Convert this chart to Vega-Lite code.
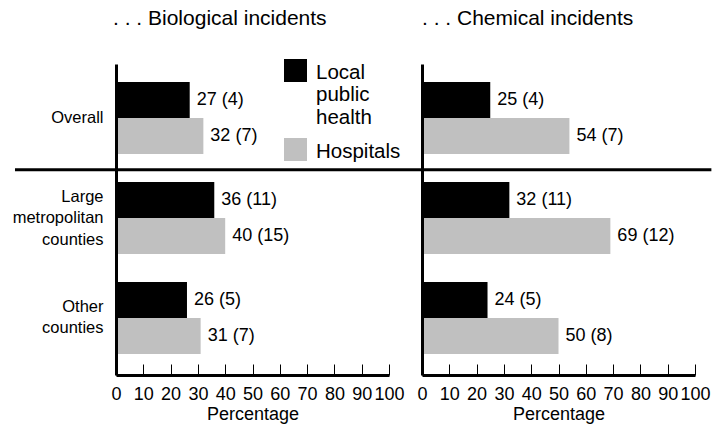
{
  "$schema": "https://vega.github.io/schema/vega-lite/v6.json",
  "padding": {"left": 12, "top": 8, "right": 10, "bottom": 5},
  "bounds": "flush",
  "spacing": 33,
  "config": {
    "font": "Liberation Sans",
    "view": {"stroke": null},
    "axis": {"labelColor": "#000000", "titleColor": "#000000", "domainColor": "#000000", "tickColor": "#000000"},
    "title": {"color": "#000000", "fontWeight": "normal", "fontSize": 21}
  },
  "data": {
    "values": [
      {"panel": "Biological", "group": "Overall", "org": "Local public health", "value": 27, "label": "27 (4)"},
      {"panel": "Biological", "group": "Overall", "org": "Hospitals", "value": 32, "label": "32 (7)"},
      {"panel": "Biological", "group": "Large metropolitan counties", "org": "Local public health", "value": 36, "label": "36 (11)"},
      {"panel": "Biological", "group": "Large metropolitan counties", "org": "Hospitals", "value": 40, "label": "40 (15)"},
      {"panel": "Biological", "group": "Other counties", "org": "Local public health", "value": 26, "label": "26 (5)"},
      {"panel": "Biological", "group": "Other counties", "org": "Hospitals", "value": 31, "label": "31 (7)"},
      {"panel": "Chemical", "group": "Overall", "org": "Local public health", "value": 25, "label": "25 (4)"},
      {"panel": "Chemical", "group": "Overall", "org": "Hospitals", "value": 54, "label": "54 (7)"},
      {"panel": "Chemical", "group": "Large metropolitan counties", "org": "Local public health", "value": 32, "label": "32 (11)"},
      {"panel": "Chemical", "group": "Large metropolitan counties", "org": "Hospitals", "value": 69, "label": "69 (12)"},
      {"panel": "Chemical", "group": "Other counties", "org": "Local public health", "value": 24, "label": "24 (5)"},
      {"panel": "Chemical", "group": "Other counties", "org": "Hospitals", "value": 50, "label": "50 (8)"}
    ]
  },
  "hconcat": [
    {
      "title": {"text": ". . . Biological incidents", "anchor": "start", "frame": "group", "offset": 35, "dx": -3},
      "width": 273,
      "height": 311,
      "encoding": {
        "y": {"field": "group", "type": "nominal",
          "scale": {"domain": ["Overall", "Large metropolitan counties", "Other counties"], "paddingInner": 0.28, "paddingOuter": 0.195, "align": 0.46},
          "axis": {"title": null, "ticks": false, "domainWidth": 3, "zindex": 1, "labelFontSize": 16.5, "labelPadding": 13, "labelLineHeight": 21.5, "labelLimit": 200,
            "labelExpr": "datum.label == 'Large metropolitan counties' ? ['Large', 'metropolitan', 'counties'] : datum.label == 'Other counties' ? ['Other', 'counties'] : datum.label",
            "labelOffset": {"condition": [{"test": "datum.value == 'Large metropolitan counties'", "value": -21}, {"test": "datum.value == 'Other counties'", "value": -11}], "value": 0}}},
        "x": {"field": "value", "type": "quantitative", "scale": {"domain": [0, 100], "nice": false},
          "axis": {"title": "Percentage", "titleFontSize": 18, "titleFontWeight": "normal", "titlePadding": 2, "values": [0, 10, 20, 30, 40, 50, 60, 70, 80, 90, 100], "domainWidth": 3, "zindex": 1, "grid": false, "ticks": true, "tickSize": -11, "tickWidth": 1, "tickColor": "#000000", "labelFontSize": 18, "labelPadding": 21, "labelFlush": false, "labelOverlap": false}}
      },
      "layer": [
        {
          "transform": [{"filter": "datum.panel == 'Biological'"}],
          "mark": {"type": "bar"},
          "encoding": {
            "yOffset": {"field": "org", "type": "nominal", "scale": {"domain": ["Local public health", "Hospitals"], "paddingInner": 0, "paddingOuter": 0}},
            "color": {"field": "org", "type": "nominal",
              "scale": {"domain": ["Local public health", "Hospitals"], "range": ["#000000", "#c0c0c0"]},
              "legend": {"orient": "none", "legendX": 168, "legendY": -5, "title": null, "symbolType": "square", "symbolSize": 529, "symbolStrokeWidth": 0, "labelFontSize": 20.5, "labelOffset": 9, "labelColor": "#000000", "labelLineHeight": 21.5, "rowPadding": 10, "labelLimit": 300,
                "labelExpr": "datum.label == 'Local public health' ? ['Local', 'public', 'health'] : datum.label",
                "encode": {"labels": {"update": {"dy": {"value": 2}}}}}}
          }
        },
        {
          "transform": [{"filter": "datum.panel == 'Biological'"}],
          "mark": {"type": "text", "align": "left", "baseline": "middle", "dx": 7, "fontSize": 18, "color": "#000000"},
          "encoding": {
            "yOffset": {"field": "org", "type": "nominal"},
            "text": {"field": "label", "type": "nominal"}
          }
        },
        {
          "data": {"values": [{"group": "Overall", "value": -37, "end": 112}]},
          "mark": {"type": "rule", "strokeWidth": 3, "color": "#000000"},
          "encoding": {
            "y": {"field": "group", "type": "nominal", "bandPosition": 1.22},
            "x2": {"field": "end"}
          }
        }
      ]
    },
    {
      "title": {"text": ". . . Chemical incidents", "anchor": "start", "frame": "group", "offset": 35, "dx": 0},
      "width": 273,
      "height": 311,
      "encoding": {
        "y": {"field": "group", "type": "nominal",
          "scale": {"domain": ["Overall", "Large metropolitan counties", "Other counties"], "paddingInner": 0.28, "paddingOuter": 0.195, "align": 0.46},
          "axis": {"title": null, "ticks": false, "labels": false, "domainWidth": 3, "zindex": 1}},
        "x": {"field": "value", "type": "quantitative", "scale": {"domain": [0, 100], "nice": false},
          "axis": {"title": "Percentage", "titleFontSize": 18, "titleFontWeight": "normal", "titlePadding": 2, "values": [0, 10, 20, 30, 40, 50, 60, 70, 80, 90, 100], "domainWidth": 3, "zindex": 1, "grid": false, "ticks": true, "tickSize": -11, "tickWidth": 1, "tickColor": "#000000", "labelFontSize": 18, "labelPadding": 21, "labelFlush": false, "labelOverlap": false}}
      },
      "layer": [
        {
          "transform": [{"filter": "datum.panel == 'Chemical'"}],
          "mark": {"type": "bar"},
          "encoding": {
            "yOffset": {"field": "org", "type": "nominal", "scale": {"domain": ["Local public health", "Hospitals"], "paddingInner": 0, "paddingOuter": 0}},
            "color": {"field": "org", "type": "nominal",
              "scale": {"domain": ["Local public health", "Hospitals"], "range": ["#000000", "#c0c0c0"]},
              "legend": {"orient": "none", "legendX": 168, "legendY": -5, "title": null, "symbolType": "square", "symbolSize": 529, "symbolStrokeWidth": 0, "labelFontSize": 20.5, "labelOffset": 9, "labelColor": "#000000", "labelLineHeight": 21.5, "rowPadding": 10, "labelLimit": 300,
                "labelExpr": "datum.label == 'Local public health' ? ['Local', 'public', 'health'] : datum.label",
                "encode": {"labels": {"update": {"dy": {"value": 2}}}}}}
          }
        },
        {
          "transform": [{"filter": "datum.panel == 'Chemical'"}],
          "mark": {"type": "text", "align": "left", "baseline": "middle", "dx": 7, "fontSize": 18, "color": "#000000"},
          "encoding": {
            "yOffset": {"field": "org", "type": "nominal"},
            "text": {"field": "label", "type": "nominal"}
          }
        },
        {
          "data": {"values": [{"group": "Overall", "value": 0, "end": 106}]},
          "mark": {"type": "rule", "strokeWidth": 3, "color": "#000000"},
          "encoding": {
            "y": {"field": "group", "type": "nominal", "bandPosition": 1.22},
            "x2": {"field": "end"}
          }
        }
      ]
    }
  ]
}
